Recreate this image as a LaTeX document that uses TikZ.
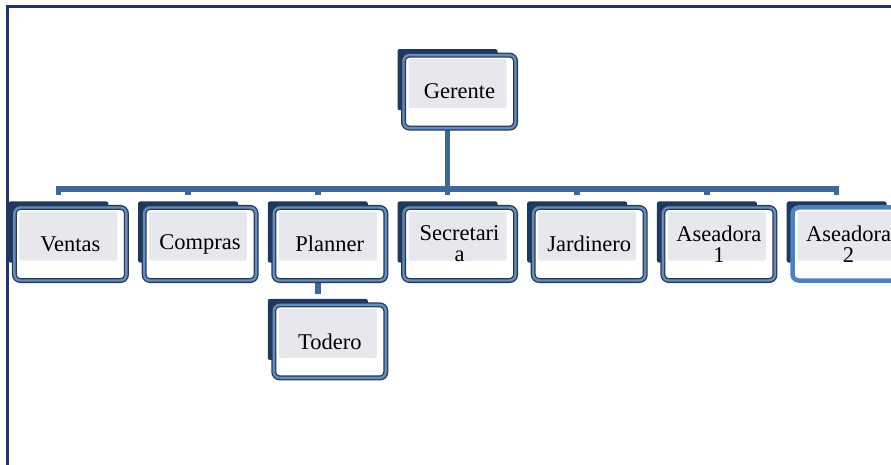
\documentclass[tikz,border=0pt]{standalone}
\usepackage{fontspec}
\setmainfont{Liberation Serif}
\usetikzlibrary{positioning,shadows}

\definecolor{navy}{RGB}{31,56,96}
\definecolor{linkblue}{RGB}{62,104,153}
\definecolor{rimdark}{RGB}{38,58,88}
\definecolor{rimlight}{RGB}{104,140,186}
\definecolor{paleface}{RGB}{230,232,238}
\definecolor{pickblue}{RGB}{79,129,189}

\begin{document}
\begin{tikzpicture}[x=1pt, y=-1pt, node distance=29.3pt]
	\tikzstyle{back}=[rectangle, rounded corners=2pt, fill=navy, minimum width=100pt, minimum height=61pt, inner sep=0pt]
	\tikzstyle{facebase}=[rectangle, rounded corners=6pt, fill=white, minimum width=112pt, minimum height=73pt, inner sep=2pt, align=center, font=\fontsize{22.5}{21}\selectfont,
		path picture={\fill[paleface, rounded corners=2pt] ([shift={(5,4)}]path picture bounding box.north west) rectangle ([shift={(-9,-20)}]path picture bounding box.south east);}]
	\tikzstyle{face}=[facebase, draw=rimdark, line width=1.3pt, double=rimlight, double distance=2.4pt, drop shadow={shadow xshift=2pt, shadow yshift=-2pt, opacity=0.6}]
	\tikzstyle{pick}=[facebase, draw=pickblue, line width=4.5pt]
	\tikzstyle{link}=[draw=linkblue, line width=5.5pt, shorten >=6pt]
	\tikzstyle{frame}=[draw=navy, line width=3pt]

	\useasboundingbox (0,0) rectangle (891,465);
	\clip (0,0) rectangle (891,465);
	\draw[frame] (7.5,6.2) rectangle (1000,600);

	% back plates
	\node[back] (secretaria) at (447.5,232) {};
	\node[back] (planner) [left=of secretaria] {};
	\node[back] (compras) [left=of planner] {};
	\node[back] (ventas) [left=of compras] {};
	\node[back] (jardinero) [right=of secretaria] {};
	\node[back] (aseadora1) [right=of jardinero] {};
	\node[back] (aseadora2) [right=of aseadora1] {};
	\node[back] (gerente) [above=91pt of secretaria] {};
	\node[back] (todero) [below=36pt of planner] {};

	% connectors
	\coordinate (bar) at (447.5,189);
	\foreach \to in {ventas,compras,planner,secretaria,jardinero,aseadora1,aseadora2}
	\draw[link] (gerente) -- (gerente |- bar) -| (\to.north);
	\draw[link, shorten >=5pt] (planner) -- (todero.north);

	% front faces
	\foreach \n/\t in {gerente/Gerente, ventas/Ventas, compras/Compras, planner/Planner, secretaria/{Secretari\\a}, jardinero/Jardinero, aseadora1/{Aseadora\\1}, todero/Todero}
	\node[face] (f-\n) at ([shift={(12,12)}]\n) {\t};
	\node[pick] (f-aseadora2) at ([shift={(12,12)}]aseadora2) {Aseadora\\2};
\end{tikzpicture}
\end{document}
